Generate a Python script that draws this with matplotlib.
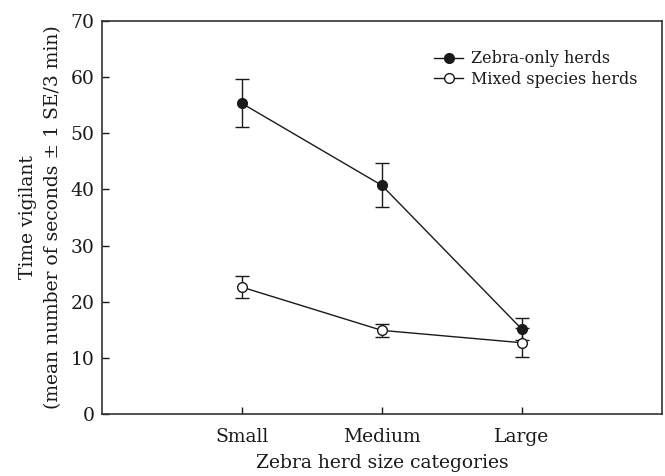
import matplotlib
matplotlib.use("Agg")
import matplotlib.pyplot as plt

categories = ["Small", "Medium", "Large"]
zebra_only = [55.3, 40.7, 15.1]
zebra_only_se = [4.3, 3.9, 2.0]
mixed = [22.6, 14.9, 12.7]
mixed_se = [2.0, 1.2, 2.6]
yticks = [0, 10, 20, 30, 40, 50, 60, 70]

plt.rcParams['font.family'] = ['DejaVu Serif']
fig = plt.figure(figsize=(6.65, 4.76), dpi=100)
ax = fig.add_axes([0.153, 0.130, 0.8425, 0.8265])

x = [1, 2, 3]
col = '#1a1a1a'
ax.errorbar(x, zebra_only, yerr=zebra_only_se, color=col, lw=1.0, marker='o',
            ms=7, mfc=col, mec=col, capsize=5, elinewidth=1.0, capthick=1.0,
            label='Zebra-only herds', zorder=3)
ax.errorbar(x, mixed, yerr=mixed_se, color=col, lw=1.0, marker='o',
            ms=7, mfc='white', mec=col, mew=1.0, capsize=5, elinewidth=1.0,
            capthick=1.0, label='Mixed species herds', zorder=3)

ax.set_xlim(0, 4)
ax.set_ylim(0, 70)
ax.set_xticks(x)
ax.set_xticklabels(categories)
ax.set_yticks(yticks)
ax.tick_params(axis='both', direction='in', length=5, width=1.0, labelsize=13.5,
               colors=col, top=False, right=False)
ax.tick_params(axis='x', pad=10)
ax.tick_params(axis='y', pad=5)
for s in ax.spines.values():
    s.set_color('#333333')
    s.set_linewidth(1.2)

ax.set_xlabel('Zebra herd size categories', fontsize=13.5, color=col, labelpad=6)
ax.set_ylabel('Time vigilant\n(mean number of seconds \u00b1 1 SE/3 min)',
              fontsize=13.5, color=col, labelpad=6, linespacing=1.55)

handles, labels = ax.get_legend_handles_labels()
handles = [h[0] for h in handles]
leg = ax.legend(handles, labels, loc='upper right', bbox_to_anchor=(0.985, 0.965),
                frameon=False, fontsize=11.5, handlelength=1.8, handletextpad=0.5,
                labelspacing=0.2, borderaxespad=0.6)
for t in leg.get_texts():
    t.set_color(col)

fig.savefig('out.png', dpi=100)
